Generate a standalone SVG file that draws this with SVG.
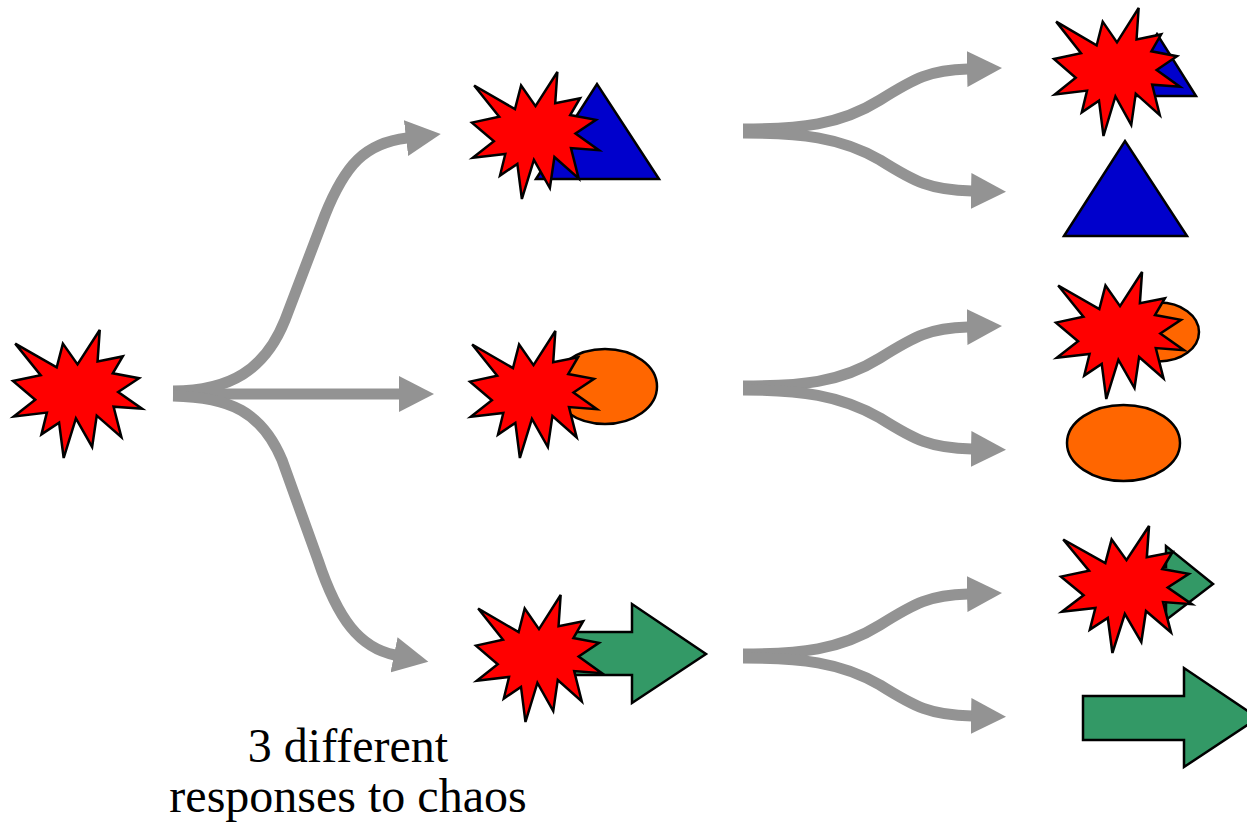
<svg xmlns="http://www.w3.org/2000/svg" xmlns:xlink="http://www.w3.org/1999/xlink" width="1247" height="829" viewBox="0 0 1247 829">
  <style>
    .seal { fill: #ff0000; stroke: #000; stroke-width: 2.5; stroke-linejoin: miter; }
    .tri { fill: #0000cc; stroke: #000; stroke-width: 2.5; stroke-linejoin: miter; }
    .oval { fill: #ff6600; stroke: #000; stroke-width: 2.5; }
    .block { fill: #339966; stroke: #000; stroke-width: 2.5; stroke-linejoin: miter; }
    .flow { fill: none; stroke: #939393; stroke-width: 11; stroke-linecap: butt; marker-end: url(#head); }
    .caption { font-size: 48px; fill: #000; text-anchor: middle; }
  </style>
  <defs>
    <!-- irregular explosion outline in a 128x128 box -->
    <path id="seal" class="seal" d="M64,34.37 L86.06,0 L83.88,31.56 L108.92,26.41 L98.98,43.35 L125.02,48.22 L104.34,62.07 L128,78.76 L99.78,76.69 L107.53,107.23 L83.08,85.67 L78.5,116.96 L62.41,88.5 L50.28,128 L45.72,92.6 L28.22,104.4 L33.58,82.59 L0.8,86.44 L22.06,69.78 L0,51.05 L27.42,45.14 L2.19,13.6 L43.33,37.45 L49.49,13.6 Z"/>
    <marker id="head" markerUnits="userSpaceOnUse" viewBox="0 0 36 36" markerWidth="36" markerHeight="36" refX="1" refY="18" orient="auto">
      <path d="M0,0 L35,18 L0,36 Z" fill="#939393"/>
    </marker>
  </defs>

  <!-- connectors -->
  <g id="connectors">
    <!-- first split: one burst into three -->
    <path class="flow" d="M173,391 C230,391 265,370 285,320 L325,215 C345,165 365,143 407,138"/>
    <path class="flow" d="M173,394 L400,394"/>
    <path class="flow" d="M173,396 C230,397 262,412 282,460 L318,560 C338,620 360,648 395,655"/>
    <!-- second split, upper row -->
    <path class="flow" d="M743,129 C800,129 840,125 880,100 C915,78 930,70 968,69"/>
    <path class="flow" d="M743,133 C800,133 840,137 880,160 C915,182 930,190 972,191"/>
    <!-- second split, middle row -->
    <path class="flow" d="M743,386 C800,386 840,383 880,358 C915,336 930,328 968,327"/>
    <path class="flow" d="M743,390 C800,390 840,395 880,418 C915,440 930,448 972,449"/>
    <!-- second split, lower row -->
    <path class="flow" d="M743,654 C800,654 840,650 880,625 C915,603 930,595 968,594"/>
    <path class="flow" d="M743,658 C800,658 840,662 880,685 C915,707 930,715 972,716"/>
  </g>

  <!-- starting burst -->
  <g id="burst-start">
    <use xlink:href="#seal" transform="translate(13,330) scale(1.008,1)"/>
  </g>

  <!-- three responses -->
  <g id="response-triangle">
    <polygon class="tri" points="536,179 597,84 659,179"/>
    <use xlink:href="#seal" transform="translate(472,72) scale(0.992,0.992)"/>
  </g>
  <g id="response-oval">
    <ellipse class="oval" cx="605" cy="386.5" rx="52" ry="37.5"/>
    <use xlink:href="#seal" transform="translate(470,331) scale(0.992,0.992)"/>
  </g>
  <g id="response-arrow">
    <polygon class="block" points="560,632 632,632 632,604 706,654 632,703 632,675 560,675"/>
    <use xlink:href="#seal" transform="translate(476,595) scale(0.984,0.992)"/>
  </g>

  <!-- outcomes -->
  <g id="outcome-triangle-hit">
    <polygon class="tri" points="1118,96 1157,34 1196,96"/>
    <use xlink:href="#seal" transform="translate(1054,8) scale(0.984,1)"/>
  </g>
  <g id="outcome-triangle">
    <polygon class="tri" points="1064,236 1125,141 1187,236"/>
  </g>
  <g id="outcome-oval-hit">
    <ellipse class="oval" cx="1159" cy="332" rx="40" ry="29.5"/>
    <use xlink:href="#seal" transform="translate(1056,272) scale(1,0.992)"/>
  </g>
  <g id="outcome-oval">
    <ellipse class="oval" cx="1123.5" cy="443" rx="56.5" ry="38"/>
  </g>
  <g id="outcome-arrow-hit">
    <polygon class="block" points="1100,567 1166,567 1166,546 1213,584 1166,620 1166,599 1100,599"/>
    <use xlink:href="#seal" transform="translate(1061,526) scale(1.023,0.992)"/>
  </g>
  <g id="outcome-arrow">
    <polygon class="block" points="1083,696 1184,696 1184,668 1258,718 1184,767 1184,740 1083,740"/>
  </g>

  <!-- caption -->
  <g id="caption" font-family="'Liberation Serif', 'DejaVu Serif', serif">
    <text class="caption" x="348" y="762" font-family="'Liberation Serif', serif">3 different</text>
    <text class="caption" x="348" y="812" font-family="'Liberation Serif', serif">responses to chaos</text>
  </g>
</svg>
